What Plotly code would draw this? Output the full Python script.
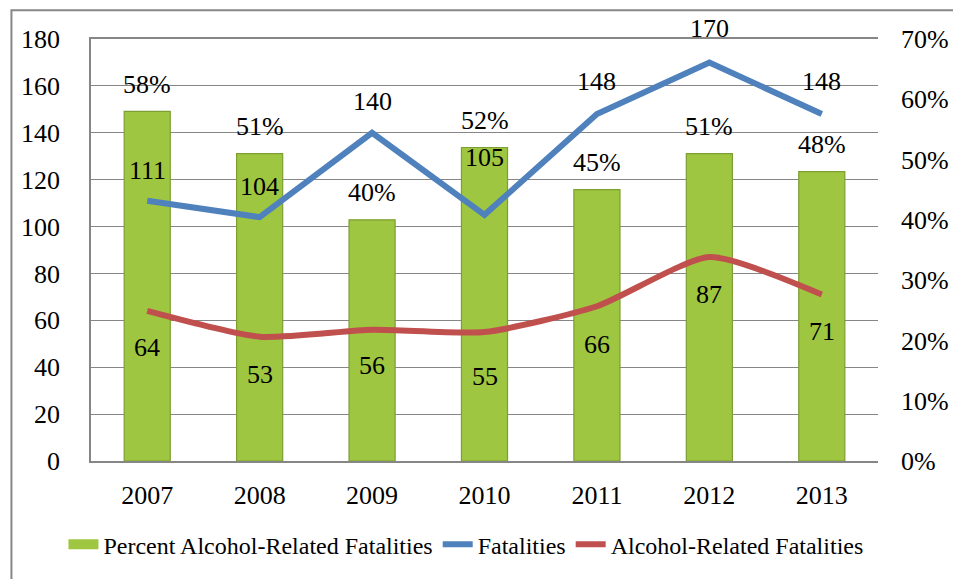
import plotly.graph_objects as go

years = ["2007", "2008", "2009", "2010", "2011", "2012", "2013"]
percent_alcohol = [0.58, 0.51, 0.40, 0.52, 0.45, 0.51, 0.48]
fatalities = [111, 104, 140, 105, 148, 170, 148]
alcohol_fatalities = [64, 53, 56, 55, 66, 87, 71]

# label offsets (px) relative to points
fat_label_shift = [30, 31, 31, 57, 33, 34, 33]
alc_label_shift = [-37, -38, -36, -44, -38, -37, -37]

FONT = "Liberation Serif"
GRID = "#868686"
GREEN = "#9FC640"

fig = go.Figure()
fig.add_trace(go.Bar(
    x=years, y=percent_alcohol, name="Percent Alcohol-Related Fatalities",
    marker=dict(color=GREEN, line=dict(color="#7D9E32", width=1.2)),
    width=0.41, yaxis="y", hoverinfo="skip", showlegend=False,
))
# legend entry styled like the bar swatch
fig.add_trace(go.Scatter(
    x=[None], y=[None], name="Percent Alcohol-Related Fatalities", mode="lines",
    line=dict(color=GREEN, width=10), yaxis="y", hoverinfo="skip",
))
fig.add_trace(go.Scatter(
    x=years, y=fatalities, name="Fatalities", mode="lines",
    line=dict(color="#4F81BD", width=6), yaxis="y2",
))
fig.add_trace(go.Scatter(
    x=years, y=alcohol_fatalities, name="Alcohol-Related Fatalities", mode="lines",
    line=dict(color="#C0504D", width=6, shape="spline", smoothing=0.6), yaxis="y2",
))

def tf(size=26):
    return dict(size=size, color="black", family=FONT)

ann = []
for i, yr in enumerate(years):
    # category axes take the category index for annotations
    ann.append(dict(x=i, y=percent_alcohol[i], xref="x", yref="y", text=f"{round(percent_alcohol[i]*100)}%",
                    showarrow=False, yshift=27, font=tf()))
    ann.append(dict(x=i, y=fatalities[i], xref="x", yref="y2", text=str(fatalities[i]),
                    showarrow=False, yshift=fat_label_shift[i], font=tf()))
    ann.append(dict(x=i, y=alcohol_fatalities[i], xref="x", yref="y2", text=str(alcohol_fatalities[i]),
                    showarrow=False, yshift=alc_label_shift[i], font=tf()))

fig.update_layout(
    width=953, height=571,
    margin=dict(l=83, r=79, t=31, b=115),
    paper_bgcolor="white", plot_bgcolor="white",
    font=dict(family=FONT, size=26, color="black"),
    showlegend=True,
    legend=dict(orientation="h", x=-0.035, xanchor="left", y=-0.198, yanchor="middle",
                font=tf(24), itemwidth=30, tracegroupgap=0,
                bgcolor="rgba(0,0,0,0)"),
    xaxis=dict(type="category", range=[-0.5, 6.5], showgrid=False, showline=True, linecolor=GRID,
               linewidth=1.5, mirror=True, ticks="", tickfont=tf(), ticklabelstandoff=10),
    yaxis=dict(side="right", range=[0, 0.7], dtick=0.1, tickformat=".0%", showgrid=False,
               zeroline=False, showline=False, ticks="", tickfont=tf(),
               ticklabelstandoff=22),
    yaxis2=dict(side="left", overlaying="y", range=[0, 180], dtick=20, showgrid=True,
                gridcolor=GRID, gridwidth=1, zeroline=False, showline=True, linecolor=GRID,
                linewidth=1.5, ticks="", tickfont=tf(), ticklabelstandoff=24),
    annotations=ann,
    shapes=[dict(type="rect", xref="paper", yref="paper", x0=-0.1011, y0=-0.3, x1=1.11, y1=1.0682,
                 line=dict(color=GRID, width=2), fillcolor="rgba(0,0,0,0)", layer="below")],
)

fig.write_html("out.html")
